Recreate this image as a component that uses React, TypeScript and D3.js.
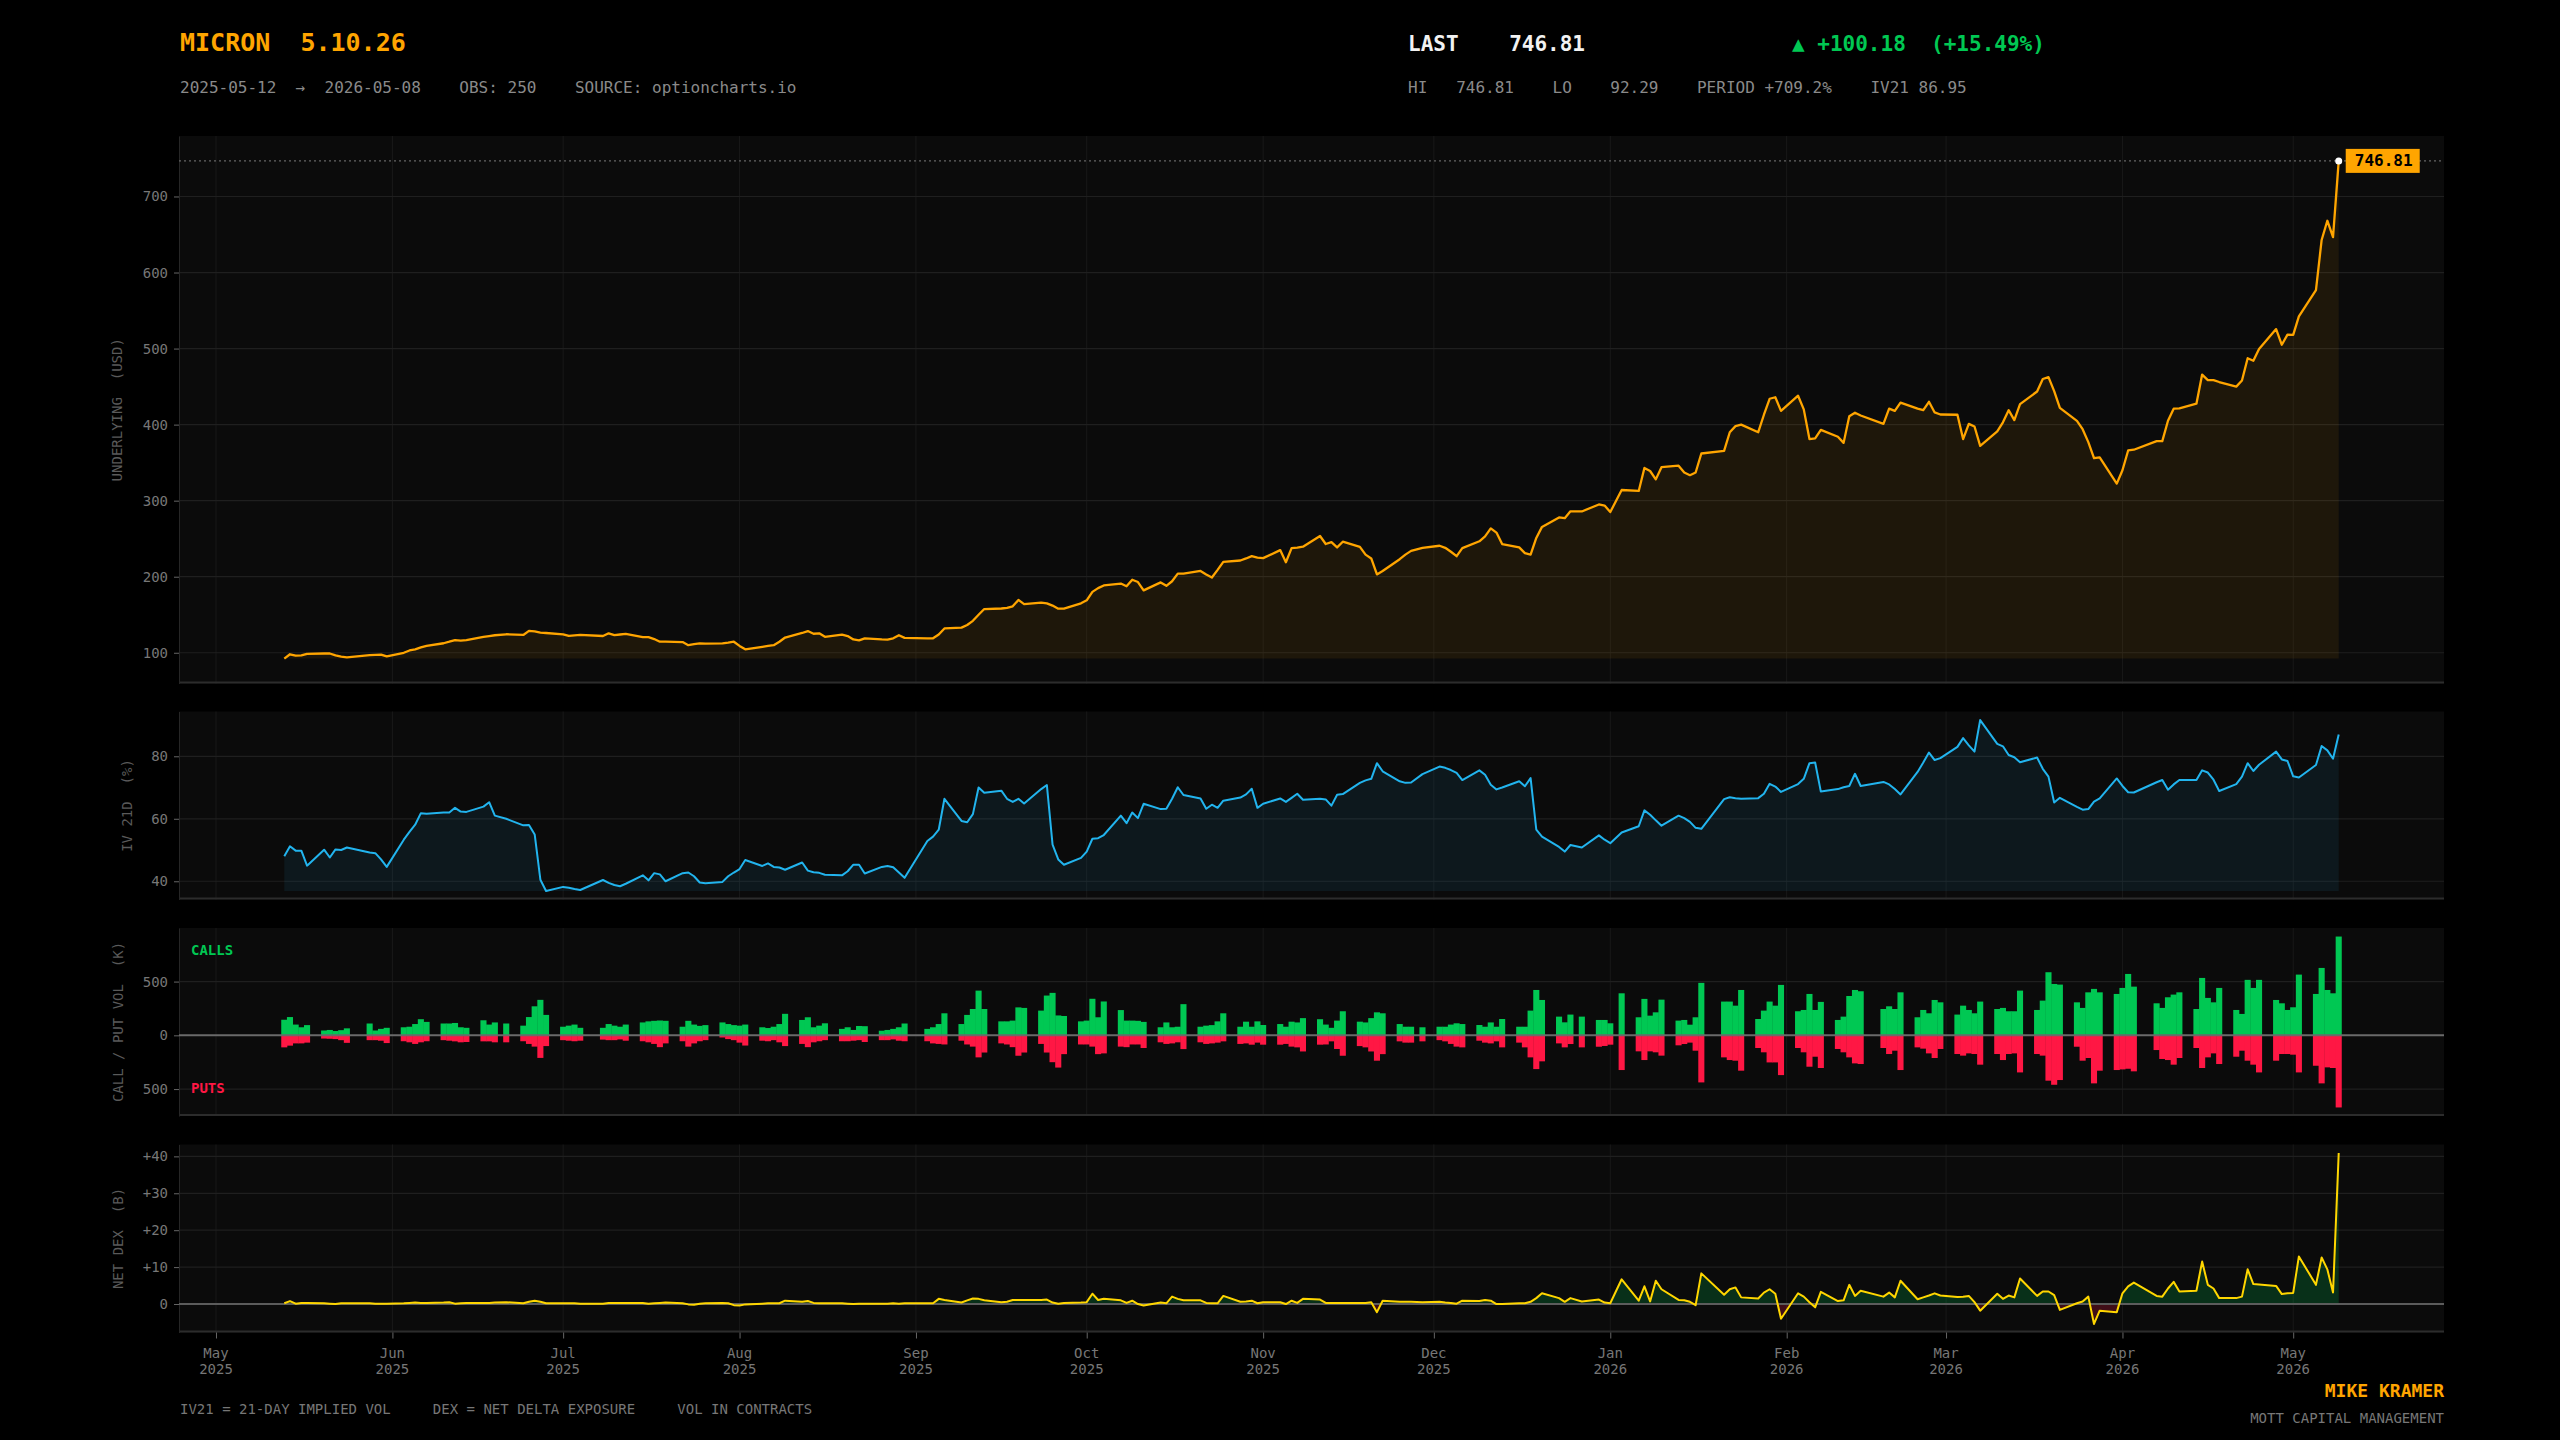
import React, { useEffect, useRef } from 'react';
import * as d3 from 'd3';

// trading calendar
const FIRST_DAY = '2025-05-12';
const LAST_DAY = '2026-05-08';
const HOLIDAYS = [
  '2025-05-26', '2025-06-19', '2025-07-04', '2025-09-01', '2025-11-27',
  '2025-12-25', '2026-01-01', '2026-01-19', '2026-02-16', '2026-04-03',
];

// underlying close, USD (one row per week)
const PRICE = [
  92.29, 98.0, 96.2, 96.6, 98.6,
  99.0, 99.0, 96.5, 95.0, 94.0,
  97.0, 97.3, 97.6, 95.2,
  100.0, 103.0, 104.5, 107.0, 109.0,
  112.5, 114.5, 116.7, 116.0, 116.5,
  120.8, 122.0, 123.0, 124.3,
  123.4, 128.7, 128.0, 126.5, 126.0,
  124.2, 122.2, 122.8, 123.4,
  122.0, 125.6, 123.3, 124.0, 124.8,
  120.5, 120.5, 118.0, 114.5, 114.5,
  114.0, 110.0, 111.3, 112.4, 112.0,
  112.3, 113.3, 114.5, 109.0, 104.5,
  107.8, 109.0, 110.0, 114.5, 120.0,
  126.0, 128.5, 125.0, 125.5, 121.0,
  123.8, 122.0, 117.5, 116.2, 119.0,
  117.5, 117.3, 119.0, 123.0, 119.6,
  119.0, 119.0, 124.0, 132.0,
  133.0, 136.5, 142.0, 150.0, 157.5,
  158.2, 159.0, 161.0, 169.5, 164.0,
  166.0, 165.0, 162.0, 158.0, 158.0,
  165.0, 169.0, 180.0, 185.0, 188.5,
  191.0, 187.5, 196.0, 193.0, 182.0,
  192.5, 188.0, 194.0, 204.0, 204.0,
  207.6, 203.0, 199.0, 209.0, 219.5,
  221.3, 224.0, 227.0, 225.0, 224.4,
  235.0, 219.0, 237.5, 238.3, 239.5,
  253.5, 243.0, 245.5, 238.5, 246.0,
  239.3, 229.0, 224.0, 203.0, 207.5,
  223.0, 229.0, 234.0, 238.0,
  240.7, 238.0, 232.8, 227.0, 237.5,
  246.6, 253.0, 263.5, 258.0, 243.0,
  238.5, 231.0, 229.0, 251.0, 265.5,
  278.0, 277.0, 286.0, 285.8,
  295.0, 293.6, 285.0, 314.0,
  312.8, 343.0, 339.0, 328.0, 344.0,
  346.0, 337.0, 333.5, 337.0, 362.0,
  365.5, 390.0, 398.0, 400.0,
  390.0, 413.0, 434.0, 436.0, 418.0,
  438.0, 420.0, 381.0, 382.0, 393.0,
  384.0, 376.0, 411.0, 415.6, 412.0,
  401.0, 421.0, 418.0, 429.0,
  421.0, 419.0, 430.0, 416.0, 413.3,
  413.0, 381.0, 401.0, 397.5, 372.0,
  391.0, 403.0, 419.0, 406.0, 427.0,
  443.5, 460.0, 462.5, 444.0, 422.0,
  405.0, 394.0, 377.0, 355.8, 357.0,
  322.4, 340.0, 366.0, 367.0,
  378.3, 378.3, 405.0, 421.0, 421.3,
  427.5, 465.8, 458.5, 458.5, 456.0,
  450.0, 458.0, 487.3, 484.0, 499.5,
  525.6, 505.0, 518.4, 518.0, 542.3,
  576.8, 642.8, 668.1, 646.63, 746.81,
];

// 21-day implied vol, %
const IV21 = [
  48.0, 51.2, 49.8, 49.8, 45.0,
  50.1, 47.6, 50.2, 50.0, 50.8,
  49.2, 49.0, 47.0, 44.6,
  53.3, 55.8, 58.1, 61.8, 61.6,
  62.0, 62.0, 63.5, 62.3, 62.2,
  63.9, 65.3, 61.0, 60.0,
  57.9, 58.0, 55.0, 40.5, 36.9,
  38.2, 37.9, 37.5, 37.2,
  40.4, 39.5, 38.8, 38.4, 39.2,
  41.9, 40.3, 42.6, 42.2, 40.0,
  42.6, 42.8, 41.6, 39.6, 39.4,
  39.8, 41.6, 42.8, 43.9, 46.8,
  44.9, 45.7, 44.6, 44.4, 43.7,
  46.0, 43.4, 42.9, 42.7, 42.1,
  41.9, 43.2, 45.3, 45.3, 42.5,
  44.6, 44.9, 44.5, 42.8, 41.1,
  52.9, 54.3, 56.5, 66.4,
  59.3, 58.9, 61.5, 70.0, 68.3,
  69.0, 66.4, 65.4, 66.4, 64.9,
  69.5, 70.8, 51.7, 47.0, 45.3,
  47.5, 49.5, 53.6, 53.8, 54.8,
  61.0, 58.6, 62.0, 60.2, 64.8,
  63.1, 63.2, 66.4, 70.1, 67.6,
  66.5, 63.2, 64.5, 63.5, 65.8,
  66.8, 67.8, 69.6, 63.5, 64.8,
  66.5, 65.4, 66.7, 68.0, 66.1,
  66.4, 66.2, 64.2, 67.7, 67.9,
  71.5, 72.3, 72.8, 77.8, 75.2,
  72.0, 71.5, 71.6, 74.3,
  76.7, 76.3, 75.6, 74.7, 72.4,
  75.5, 74.1, 70.9, 69.4, 70.0,
  72.0, 70.4, 73.0, 56.5, 54.3,
  51.0, 49.5, 51.6, 50.8,
  54.7, 53.3, 52.2, 55.6,
  57.6, 62.7, 61.3, 59.5, 57.8,
  61.0, 60.2, 59.0, 57.1, 56.8,
  66.3, 66.9, 66.6, 66.4,
  66.6, 68.0, 71.2, 70.3, 68.6,
  71.1, 72.8, 77.8, 78.0, 68.7,
  69.5, 70.1, 70.5, 74.4, 70.5,
  71.8, 71.0, 69.5, 67.8,
  75.0, 78.0, 81.2, 78.8, 79.4,
  83.0, 85.8, 83.5, 81.5, 91.6,
  84.0, 83.2, 80.4, 79.7, 78.1,
  79.6, 76.0, 73.5, 65.2, 66.7,
  63.8, 62.9, 63.1, 65.5, 66.5,
  72.9, 70.5, 68.5, 68.4,
  71.7, 72.4, 69.3, 71.0, 72.4,
  72.4, 75.5, 74.8, 72.5, 68.9,
  71.1, 73.5, 77.8, 75.3, 77.3,
  81.5, 79.0, 78.5, 73.6, 73.2,
  77.2, 83.3, 81.9, 79.2, 86.95,
];

// option volume, thousands of contracts
const CALL_VOL = [
  145, 170, 100, 75, 95,
  45, 50, 40, 48, 65,
  110, 45, 60, 70,
  75, 80, 105, 150, 125,
  110, 110, 115, 75, 70,
  140, 100, 120, 110,
  90, 170, 270, 330, 190,
  80, 90, 100, 70,
  70, 105, 90, 80, 100,
  120, 130, 135, 138, 135,
  80, 135, 100, 88, 95,
  120, 105, 95, 90, 100,
  75, 68, 80, 105, 200,
  143, 168, 75, 90, 112,
  60, 75, 50, 87, 85,
  43, 50, 60, 75, 110,
  60, 75, 105, 205,
  105, 190, 245, 416, 245,
  130, 130, 137, 260, 255,
  230, 370, 395, 185, 180,
  130, 137, 340, 168, 315,
  235, 137, 137, 135, 125,
  75, 120, 75, 80, 290,
  80, 90, 95, 130, 205,
  80, 127, 80, 130, 96,
  105, 80, 127, 120, 160,
  150, 100, 70, 137, 224,
  127, 120, 160, 214, 205,
  105, 80, 80, 75,
  80, 80, 100, 112, 105,
  96, 80, 120, 80, 152,
  80, 80, 230, 422, 329,
  174, 121, 193, 174,
  143, 143, 112, 391,
  168, 339, 183, 214, 332,
  137, 143, 99, 168, 488,
  314, 314, 276, 422,
  152, 230, 314, 276, 469,
  224, 236, 385, 236, 311,
  143, 174, 366, 422, 410,
  245, 270, 245, 400,
  168, 236, 205, 329, 307,
  193, 276, 236, 205, 314,
  245, 255, 224, 224, 416,
  236, 323, 587, 478, 472,
  307, 255, 400, 432, 400,
  385, 441, 571, 453,
  298, 255, 354, 379, 400,
  245, 534, 348, 307, 441,
  236, 199, 516, 441, 516,
  329, 298, 236, 261, 565,
  385, 627, 422, 391, 919,
];

const PUT_VOL = [
  112, 96, 75, 75, 68,
  30, 32, 35, 45, 70,
  45, 45, 50, 72,
  55, 65, 80, 65, 55,
  45, 50, 56, 65, 62,
  56, 56, 65, 65,
  55, 80, 105, 210, 100,
  45, 50, 55, 50,
  40, 45, 45, 38, 50,
  55, 65, 80, 110, 75,
  55, 105, 75, 55, 45,
  20, 35, 45, 68, 95,
  50, 55, 45, 65, 100,
  80, 110, 65, 55, 45,
  55, 55, 50, 45, 62,
  45, 45, 38, 50, 55,
  55, 75, 80, 85,
  50, 85, 105, 205, 160,
  75, 85, 110, 190, 160,
  80, 160, 250, 300, 175,
  85, 85, 105, 175, 168,
  105, 110, 85, 85, 118,
  65, 80, 75, 65, 128,
  65, 80, 75, 68, 56,
  80, 75, 87, 68, 87,
  87, 80, 105, 112, 150,
  87, 85, 56, 127, 190,
  100, 112, 150, 236, 175,
  56, 68, 68, 56,
  45, 56, 80, 105, 112,
  50, 68, 75, 56, 112,
  68, 112, 205, 314, 242,
  75, 112, 81, 112,
  106, 99, 87, 323,
  149, 230, 149, 158, 189,
  93, 81, 68, 143, 438,
  205, 230, 236, 329,
  118, 158, 252, 252, 370,
  118, 158, 292, 199, 304,
  127, 158, 205, 261, 267,
  118, 174, 143, 323,
  112, 124, 168, 211, 127,
  174, 189, 168, 174, 273,
  174, 230, 174, 168, 345,
  174, 189, 422, 460, 416,
  106, 236, 211, 447, 329,
  323, 317, 311, 335,
  137, 220, 230, 273, 211,
  118, 304, 205, 168, 267,
  199, 143, 236, 273, 345,
  236, 174, 174, 180, 345,
  283, 447, 298, 304, 671,
];

// net delta exposure, USD billions
const NET_DEX = [
  0.2, 0.8, 0.1, 0.3, 0.3,
  0.2, 0.1, 0.0, 0.2, 0.2,
  0.2, 0.1, 0.1, 0.1,
  0.2, 0.3, 0.4, 0.3, 0.3,
  0.4, 0.5, 0.1, 0.2, 0.3,
  0.3, 0.3, 0.4, 0.5,
  0.2, 0.6, 0.9, 0.6, 0.2,
  0.2, 0.2, 0.2, 0.1,
  0.1, 0.3, 0.3, 0.3, 0.3,
  0.3, 0.1, 0.2, 0.3, 0.4,
  0.2, -0.1, -0.2, 0.1, 0.2,
  0.3, 0.2, -0.3, -0.4, -0.1,
  0.1, 0.2, 0.2, 0.2, 0.9,
  0.6, 0.8, 0.3, 0.2, 0.2,
  0.2, 0.1, 0.0, 0.1, 0.1,
  0.1, 0.1, 0.2, 0.1, 0.2,
  0.2, 0.2, 1.4, 1.1,
  0.4, 1.0, 1.5, 1.4, 1.0,
  0.5, 0.6, 1.1, 1.1, 1.1,
  1.1, 1.2, 0.4, 0.1, 0.3,
  0.4, 0.5, 2.8, 1.1, 1.4,
  1.0, 0.3, 0.9, 0.0, -0.4,
  0.4, 0.2, 2.0, 1.4, 1.0,
  1.0, 0.3, 0.2, 0.2, 2.2,
  0.6, 0.7, 0.9, 0.2, 0.5,
  0.5, 0.0, 0.9, 0.3, 1.4,
  1.2, 0.3, 0.3, 0.3, 0.3,
  0.3, 0.3, 0.5, -2.2, 0.9,
  0.6, 0.6, 0.6, 0.5,
  0.6, 0.4, 0.3, 0.1, 0.9,
  0.8, 1.1, 0.9, 0.0, 0.0,
  0.2, 0.2, 0.6, 1.6, 2.9,
  1.6, 0.6, 1.6, 0.7,
  1.2, 0.4, 0.2, 6.7,
  0.9, 4.8, 0.7, 6.3, 4.0,
  1.1, 1.0, 0.6, -0.3, 8.3,
  2.5, 4.0, 4.5, 1.8,
  1.5, 3.1, 4.0, 2.8, -4.0,
  2.9, 2.0, 0.5, -0.9, 3.3,
  0.8, 1.0, 5.2, 2.2, 3.6,
  2.0, 3.1, 1.8, 6.3,
  1.3, 1.8, 2.3, 2.9, 2.3,
  1.9, 2.0, 2.2, 0.5, -1.8,
  2.8, 1.4, 2.3, 1.8, 6.9,
  2.2, 3.4, 3.4, 2.4, -1.6,
  0.2, 0.7, 2.0, -5.4, -1.8,
  -2.2, 2.9, 4.8, 5.8,
  2.2, 2.0, 4.2, 6.0, 3.4,
  3.6, 11.5, 5.2, 4.2, 1.6,
  1.6, 2.0, 9.4, 5.4, 5.3,
  4.9, 2.7, 2.9, 3.0, 12.9,
  5.2, 12.6, 9.4, 3.1, 40.9,
];

// axis ticks
const PRICE_TICKS = [100, 200, 300, 400, 500, 600, 700];
const IV_TICKS = [40, 60, 80];
const VOL_TICKS = [-500, 0, 500];
const DEX_TICKS = [0, 10, 20, 30, 40];

const W = 2560;
const H = 1440;
const LEFT = 179;
const RIGHT = 2444;
const FONT = 'DejaVu Sans Mono';
const ORANGE = '#ffa500';
const GREEN = '#00c853';
const RED = '#ff1744';
const BLUE = '#22b4ee';
const YELLOW = '#ffd600';

type Row = { date: Date; price: number; iv: number; call: number; put: number; dex: number };

const padded = (lo: number, hi: number): [number, number] => {
  const r = hi - lo;
  return [lo - r * 0.05, hi + r * 0.05];
};

const Terminal: React.FC = () => {
  const svgRef = useRef<SVGSVGElement>(null);

  useEffect(() => {
    const svg = d3.select(svgRef.current);
    svg.selectAll('*').remove();

    const parseDay = d3.timeParse('%Y-%m-%d');
    const fmtDay = d3.timeFormat('%Y-%m-%d');
    const days = d3.timeDay
      .range(parseDay(FIRST_DAY)!, d3.timeDay.offset(parseDay(LAST_DAY)!, 1))
      .filter(d => d.getDay() !== 0 && d.getDay() !== 6 && !HOLIDAYS.includes(fmtDay(d)))
      .map(d => d3.timeHour.offset(d, 12));

    const n = Math.min(days.length, PRICE.length);
    const rows: Row[] = d3.range(n).map(i => ({
      date: days[i],
      price: PRICE[i],
      iv: IV21[i],
      call: CALL_VOL[i],
      put: PUT_VOL[i],
      dex: NET_DEX[i],
    }));
    const last = rows[n - 1];
    const prev = rows[n - 2];

    const x = d3.scaleTime()
      .domain([new Date(2025, 3, 24), new Date(2026, 4, 27)])
      .range([LEFT, RIGHT]);
    const months = x.ticks(d3.timeMonth.every(1)!);
    const dayW = x(new Date(2025, 5, 2)) - x(new Date(2025, 5, 1));
    // month marks sit half a day before the month's first midnight
    const mx = (d: Date) => x(d) - dayW / 2;

    const defs = svg.append('defs');

    // panel frame: background, grid, left axis, rotated label
    const panel = (
      top: number, bottom: number, domain: [number, number], ticks: number[],
      fmt: (v: number) => string, label: string, labelX: number,
    ) => {
      const y = d3.scaleLinear().domain(domain).range([bottom, top]);
      const g = svg.append('g');
      g.append('rect')
        .attr('x', LEFT).attr('y', top)
        .attr('width', RIGHT - LEFT).attr('height', bottom - top)
        .attr('fill', '#0b0b0b');
      g.selectAll('line.vg').data(months).join('line')
        .attr('class', 'vg')
        .attr('x1', d => mx(d)).attr('x2', d => mx(d))
        .attr('y1', top).attr('y2', bottom)
        .attr('stroke', '#191919').attr('stroke-width', 1);
      g.selectAll('line.hg').data(ticks).join('line')
        .attr('class', 'hg')
        .attr('x1', LEFT).attr('x2', RIGHT)
        .attr('y1', d => y(d)).attr('y2', d => y(d))
        .attr('stroke', '#1f1f1f').attr('stroke-width', 1.2);
      g.append('line')
        .attr('x1', LEFT).attr('x2', RIGHT)
        .attr('y1', bottom - 1).attr('y2', bottom - 1)
        .attr('stroke', '#2c2c2c').attr('stroke-width', 2);
      const ax = g.append('g')
        .attr('transform', `translate(${LEFT},0)`)
        .call(d3.axisLeft(y).tickValues(ticks).tickSize(5).tickSizeOuter(0).tickPadding(6)
          .tickFormat(d => fmt(+d)));
      ax.select('.domain').attr('stroke', '#262626');
      ax.selectAll('.tick line').attr('stroke', '#666');
      ax.selectAll('.tick text')
        .attr('fill', '#777').attr('font-family', FONT).attr('font-size', 14);
      g.append('text')
        .attr('transform', `translate(${labelX},${(top + bottom) / 2}) rotate(-90)`)
        .attr('text-anchor', 'middle').attr('dominant-baseline', 'central')
        .attr('fill', '#5a5a5a').attr('font-family', FONT).attr('font-size', 14)
        .style('white-space', 'pre')
        .text(label);
      return { y, g };
    };

    // ---- price
    const pMin = d3.min(rows, d => d.price)!;
    const pMax = d3.max(rows, d => d.price)!;
    const pr = panel(136, 683.5, padded(pMin, pMax), PRICE_TICKS, v => String(v), 'UNDERLYING  (USD)', 117);
    pr.g.append('path')
      .datum(rows)
      .attr('d', d3.area<Row>().x(d => x(d.date)).y0(pr.y(pMin)).y1(d => pr.y(d.price)))
      .attr('fill', ORANGE).attr('fill-opacity', 0.08);
    pr.g.append('line')
      .attr('x1', LEFT).attr('x2', RIGHT)
      .attr('y1', pr.y(last.price)).attr('y2', pr.y(last.price))
      .attr('stroke', '#666').attr('stroke-width', 1.3).attr('stroke-dasharray', '2,3');
    pr.g.append('path')
      .datum(rows)
      .attr('d', d3.line<Row>().x(d => x(d.date)).y(d => pr.y(d.price)))
      .attr('fill', 'none').attr('stroke', ORANGE).attr('stroke-width', 2.3)
      .attr('stroke-linejoin', 'round');
    pr.g.append('circle')
      .attr('cx', x(last.date)).attr('cy', pr.y(last.price)).attr('r', 3.5)
      .attr('fill', '#fff');
    const bx = x(last.date) + 7;
    pr.g.append('rect')
      .attr('x', bx).attr('y', pr.y(last.price) - 12)
      .attr('width', 74).attr('height', 24).attr('fill', ORANGE);
    pr.g.append('text')
      .attr('x', bx + 38).attr('y', pr.y(last.price) + 5.5)
      .attr('text-anchor', 'middle')
      .attr('fill', '#000').attr('font-family', FONT).attr('font-size', 16).attr('font-weight', 'bold')
      .text(last.price.toFixed(2));

    // ---- implied vol
    const ivMin = d3.min(rows, d => d.iv)!;
    const ivMax = d3.max(rows, d => d.iv)!;
    const ivp = panel(711.5, 899.5, padded(ivMin, ivMax), IV_TICKS, v => String(v), 'IV 21D  (%)', 126.5);
    ivp.g.append('path')
      .datum(rows)
      .attr('d', d3.area<Row>().x(d => x(d.date)).y0(ivp.y(ivMin)).y1(d => ivp.y(d.iv)))
      .attr('fill', BLUE).attr('fill-opacity', 0.08);
    ivp.g.append('path')
      .datum(rows)
      .attr('d', d3.line<Row>().x(d => x(d.date)).y(d => ivp.y(d.iv)))
      .attr('fill', 'none').attr('stroke', BLUE).attr('stroke-width', 2)
      .attr('stroke-linejoin', 'round');

    // ---- call / put volume
    const cMax = d3.max(rows, d => d.call)!;
    const puMax = d3.max(rows, d => d.put)!;
    const vp = panel(928, 1116, padded(-puMax, cMax), VOL_TICKS, v => String(Math.abs(v)), 'CALL / PUT VOL  (K)', 117.5);
    const bw = dayW + 0.4;
    vp.g.selectAll('rect.call').data(rows).join('rect')
      .attr('class', 'call')
      .attr('x', d => x(d.date) - bw / 2).attr('width', bw)
      .attr('y', d => vp.y(d.call)).attr('height', d => vp.y(0) - vp.y(d.call))
      .attr('fill', GREEN);
    vp.g.selectAll('rect.put').data(rows).join('rect')
      .attr('class', 'put')
      .attr('x', d => x(d.date) - bw / 2).attr('width', bw)
      .attr('y', vp.y(0)).attr('height', d => vp.y(-d.put) - vp.y(0))
      .attr('fill', RED);
    vp.g.append('line')
      .attr('x1', LEFT).attr('x2', RIGHT)
      .attr('y1', vp.y(0)).attr('y2', vp.y(0))
      .attr('stroke', '#6a6a6a').attr('stroke-width', 2);
    vp.g.append('text')
      .attr('x', 191).attr('y', 955)
      .attr('fill', GREEN).attr('font-family', FONT).attr('font-size', 14).attr('font-weight', 'bold')
      .text('CALLS');
    vp.g.append('text')
      .attr('x', 191).attr('y', 1093)
      .attr('fill', RED).attr('font-family', FONT).attr('font-size', 14).attr('font-weight', 'bold')
      .text('PUTS');

    // ---- net delta exposure
    const dMin = d3.min(rows, d => d.dex)!;
    const dMax = d3.max(rows, d => d.dex)!;
    const dp = panel(1144.5, 1332.5, padded(dMin, dMax), DEX_TICKS, v => (v > 0 ? `+${v}` : String(v)), 'NET DEX  (B)', 117.5);
    const zeroY = dp.y(0);
    defs.append('clipPath').attr('id', 'dex-above')
      .append('rect').attr('x', LEFT).attr('y', 1144.5).attr('width', RIGHT - LEFT).attr('height', zeroY - 1144.5);
    defs.append('clipPath').attr('id', 'dex-below')
      .append('rect').attr('x', LEFT).attr('y', zeroY).attr('width', RIGHT - LEFT).attr('height', 1332.5 - zeroY);
    const dexArea = d3.area<Row>().x(d => x(d.date)).y0(zeroY).y1(d => dp.y(d.dex));
    dp.g.append('path').datum(rows).attr('d', dexArea)
      .attr('clip-path', 'url(#dex-above)')
      .attr('fill', GREEN).attr('fill-opacity', 0.2);
    dp.g.append('path').datum(rows).attr('d', dexArea)
      .attr('clip-path', 'url(#dex-below)')
      .attr('fill', RED).attr('fill-opacity', 0.22);
    dp.g.append('line')
      .attr('x1', LEFT).attr('x2', RIGHT)
      .attr('y1', zeroY).attr('y2', zeroY)
      .attr('stroke', '#5c5c5c').attr('stroke-width', 2);
    dp.g.append('path')
      .datum(rows)
      .attr('d', d3.line<Row>().x(d => x(d.date)).y(d => dp.y(d.dex)))
      .attr('fill', 'none').attr('stroke', YELLOW).attr('stroke-width', 2)
      .attr('stroke-linejoin', 'round');

    // ---- shared time axis
    const xa = svg.append('g')
      .attr('transform', `translate(${-dayW / 2},1332.5)`)
      .call(d3.axisBottom(x).tickValues(months).tickSize(6).tickSizeOuter(0).tickFormat(() => ''));
    xa.select('.domain').remove();
    xa.selectAll('.tick line').attr('stroke', '#666');
    const fmtMon = d3.timeFormat('%b');
    const fmtYr = d3.timeFormat('%Y');
    const xl = svg.append('g')
      .attr('fill', '#777').attr('font-family', FONT).attr('font-size', 14).attr('text-anchor', 'middle');
    xl.selectAll('text.m').data(months).join('text')
      .attr('class', 'm').attr('x', d => mx(d)).attr('y', 1357.5).text(d => fmtMon(d));
    xl.selectAll('text.yr').data(months).join('text')
      .attr('class', 'yr').attr('x', d => mx(d)).attr('y', 1374).text(d => fmtYr(d));

    // ---- header
    const txt = (xp: number, yp: number, s: string, size: number, fill: string, bold = false, anchor = 'start') =>
      svg.append('text')
        .attr('x', xp).attr('y', yp)
        .attr('fill', fill).attr('font-family', FONT).attr('font-size', size)
        .attr('font-weight', bold ? 'bold' : 'normal').attr('text-anchor', anchor)
        .style('white-space', 'pre')
        .text(s);

    const chg = last.price - prev.price;
    const chgPct = (chg / prev.price) * 100;
    const period = (last.price / rows[0].price - 1) * 100;

    txt(180, 51, 'MICRON  5.10.26', 25, ORANGE, true);
    txt(180, 93, `${FIRST_DAY}  →  ${LAST_DAY}    OBS: ${n}    SOURCE: optioncharts.io`, 16, '#8a8a8a');
    txt(1408, 51, `LAST    ${last.price.toFixed(2)}`, 21, '#f2f2f2', true);
    txt(1792, 51, `▲ +${chg.toFixed(2)}  (+${chgPct.toFixed(2)}%)`, 21, GREEN, true);
    txt(1408, 93,
      `HI   ${pMax.toFixed(2)}    LO    ${pMin.toFixed(2)}    PERIOD +${period.toFixed(1)}%    IV21 ${last.iv.toFixed(2)}`,
      16, '#8a8a8a');

    // ---- footer
    txt(180, 1414, 'IV21 = 21-DAY IMPLIED VOL     DEX = NET DELTA EXPOSURE     VOL IN CONTRACTS', 14, '#777');
    txt(2444, 1397, 'MIKE KRAMER', 18, ORANGE, true, 'end');
    txt(2444, 1423, 'MOTT CAPITAL MANAGEMENT', 14, '#777', false, 'end');
  }, []);

  return <svg ref={svgRef} width={W} height={H} style={{ display: 'block', background: '#000' }} />;
};

const App: React.FC = () => {
  return (
    <div style={{ position: 'absolute', left: 0, top: 0, width: W, height: H, background: '#000', overflow: 'hidden' }}>
      <Terminal />
    </div>
  );
};

export default App;
